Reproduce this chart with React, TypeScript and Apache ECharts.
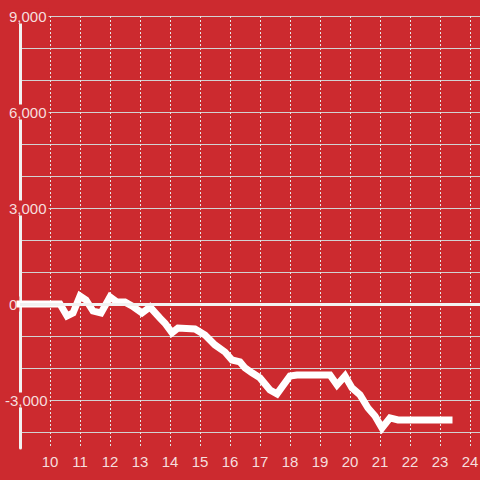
import React, { useEffect, useRef } from "react";
import * as echarts from "echarts";

const hours = [9.0, 10.333, 10.567, 10.767, 11.0, 11.2, 11.433, 11.7, 12.0, 12.233, 12.5, 12.733, 13.067, 13.333, 13.667, 13.833, 14.067, 14.267, 14.833, 15.167, 15.5, 15.833, 16.067, 16.333, 16.5, 16.733, 17.0, 17.333, 17.567, 18.0, 18.233, 19.333, 19.567, 19.833, 20.067, 20.333, 20.6, 20.833, 21.067, 21.333, 21.6, 23.3];
const values = [0, 0, -375, -280, 250, 125, -220, -280, 220, 60, 60, -60, -280, -95, -440, -600, -900, -750, -780, -970, -1280, -1500, -1750, -1810, -2000, -2150, -2310, -2690, -2810, -2250, -2220, -2220, -2530, -2250, -2625, -2840, -3250, -3500, -3875, -3560, -3625, -3625];
const yLabelValues = [9000, 6000, 3000, 0];
const yNegLabelValues = [-3000];
const xTickHours = [10, 11, 12, 13, 14, 15, 16, 17, 18, 19, 20, 21, 22, 23, 24];

const BG = "#cc2a2f";
const TEXT = "#f6dede";
const FONT = "'Liberation Sans', Arial, sans-serif";

export default function App() {
  const ref = useRef<HTMLDivElement>(null);
  useEffect(() => {
    if (!ref.current) return;
    const chart = echarts.init(ref.current, null, { renderer: "svg" });
    const fmtNum = (v: number) => v.toLocaleString("en-US");
    const richA = {
      a: {
        color: TEXT,
        fontSize: 15,
        fontFamily: FONT,
        backgroundColor: BG,
        padding: [0, 2, 0, 2],
        lineHeight: 14,
      },
    };
    const yBase = {
      gridIndex: 0,
      type: "value",
      position: "left",
      offset: 0,
      min: -4500,
      max: 9000,
      interval: 500,
      axisTick: { show: false },
      splitLine: { show: false },
    };
    chart.setOption({
      animation: false,
      backgroundColor: BG,
      grid: [
        { left: 20, right: 0, top: 16, bottom: 32, containLabel: false, outerBoundsMode: "none" },
        { left: 20, right: 0, top: 16, bottom: 48, containLabel: false, outerBoundsMode: "none" },
      ],
      xAxis: [
        {
          gridIndex: 0,
          type: "value",
          min: 9,
          max: 24.3333,
          interval: 1,
          axisLine: { show: false },
          axisTick: { show: false },
          axisLabel: {
            color: TEXT,
            fontSize: 15,
            fontFamily: FONT,
            margin: 6,
            formatter: (v: number) =>
              xTickHours.indexOf(Math.round(v * 1000) / 1000) >= 0 ? String(v) : "",
          },
          splitLine: {
            show: true,
            lineStyle: { color: "#e6e6e6", width: 1, type: [2, 2] },
          },
        },
        {
          gridIndex: 1,
          type: "value",
          min: 9,
          max: 24.3333,
          show: false,
          splitLine: { show: false },
        },
      ],
      yAxis: [
        {
          ...yBase,
          z: 3,
          axisLine: { show: true, lineStyle: { color: "#f2f2f2", width: 3 } },
          axisLabel: {
            margin: 13,
            align: "left",
            formatter: (v: number) =>
              yLabelValues.indexOf(v) >= 0 ? "{a|" + fmtNum(v) + "}" : "",
            rich: richA,
          },
        },
        {
          gridIndex: 1,
          type: "value",
          position: "left",
          min: -4000,
          max: 9000,
          interval: 1000,
          z: 0,
          axisLine: { show: false },
          axisTick: { show: false },
          axisLabel: { show: false },
          splitLine: { show: true, lineStyle: { color: "#d2d2d2", width: 1 } },
        },
        {
          ...yBase,
          z: 3,
          axisLine: { show: false },
          axisLabel: {
            margin: 17,
            align: "left",
            formatter: (v: number) =>
              yNegLabelValues.indexOf(v) >= 0 ? "{a|" + fmtNum(v) + "}" : "",
            rich: richA,
          },
        },
      ],
      series: [
        {
          type: "line",
          xAxisIndex: 0,
          yAxisIndex: 0,
          z: 4,
          data: hours.map((h, i) => [h, values[i]]),
          showSymbol: false,
          symbol: "none",
          lineStyle: { color: "#ffffff", width: 7, cap: "square", join: "miter" },
          markLine: {
            silent: true,
            symbol: "none",
            label: { show: false },
            lineStyle: { color: "#f2f2f2", width: 3, type: "solid" },
            data: [{ yAxis: 0 }],
          },
        },
      ],
    });
    return () => chart.dispose();
  }, []);
  return (
    <div
      ref={ref}
      style={{ position: "absolute", left: 0, top: 0, width: 480, height: 480 }}
    />
  );
}
